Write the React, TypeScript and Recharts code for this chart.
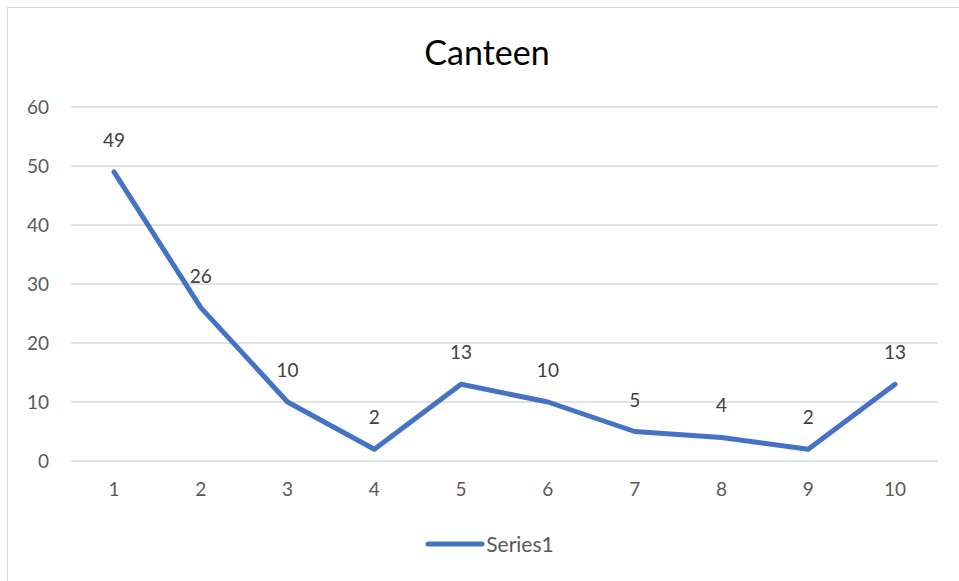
import {
  LineChart,
  Line,
  XAxis,
  YAxis,
  CartesianGrid,
  Legend,
  LabelList,
} from "recharts";

// values
const categories = ["1", "2", "3", "4", "5", "6", "7", "8", "9", "10"];
const series1 = [49, 26, 10, 2, 13, 10, 5, 4, 2, 13];
const yTicks = [0, 10, 20, 30, 40, 50, 60];

const data = categories.map((c, i) => ({ name: c, Series1: series1[i] }));

const FONT = "Lato, 'Open Sans', sans-serif";
const BLUE = "#4472C4";

function SeriesLegend() {
  return (
    <div
      style={{
        display: "flex",
        justifyContent: "center",
        alignItems: "center",
        fontFamily: FONT,
        fontSize: 21,
        color: "#595959",
      }}
    >
      <svg width={60} height={10} style={{ marginRight: 1 }}>
        <line
          x1={3}
          y1={5}
          x2={57}
          y2={5}
          stroke={BLUE}
          strokeWidth={5}
          strokeLinecap="round"
        />
      </svg>
      <span>Series1</span>
    </div>
  );
}

export default function App() {
  return (
    <div
      style={{
        position: "fixed",
        left: 0,
        top: 0,
        width: 959,
        height: 581,
        background: "#fff",
        overflow: "hidden",
      }}
    >
      {/* chart frame, only top/left edges show in the crop */}
      <div
        style={{
          position: "absolute",
          left: 7,
          top: 7,
          width: 1000,
          height: 700,
          border: "1px solid #d9d9d9",
        }}
      />

      {/* Title */}
      <div
        style={{
          position: "absolute",
          left: 0,
          top: 30,
          width: 974,
          textAlign: "center",
          fontFamily: FONT,
          fontSize: 34,
          color: "#000",
          lineHeight: "44px",
        }}
      >
        Canteen
      </div>

      <div style={{ position: "absolute", left: 0, top: 0 }}>
        <LineChart
          width={959}
          height={581}
          data={data}
          margin={{ top: 107, right: 21, bottom: 90, left: 0 }}
        >
          <CartesianGrid
            vertical={false}
            stroke="#d9d9d9"
            strokeWidth={1.5}
          />
          <XAxis
            dataKey="name"
            height={30}
            padding={{ left: 43, right: 43 }}
            axisLine={false}
            tickLine={false}
            tickSize={0}
            tickMargin={22}
            tick={{ fill: "#595959", fontSize: 19, fontFamily: FONT }}
          />
          <YAxis
            width={71}
            domain={[0, 60]}
            ticks={yTicks}
            axisLine={false}
            tickLine={false}
            tickSize={0}
            tickMargin={22}
            tick={{ fill: "#595959", fontSize: 19, fontFamily: FONT }}
          />
          <Legend
            layout="horizontal"
            verticalAlign="middle"
            wrapperStyle={{ top: 531, left: 10, width: 959 }}
            content={() => <SeriesLegend />}
          />
          <Line
            type="linear"
            dataKey="Series1"
            stroke={BLUE}
            strokeWidth={5}
            strokeLinecap="round"
            strokeLinejoin="round"
            dot={false}
            isAnimationActive={false}
          >
            <LabelList
              dataKey="Series1"
              position="top"
              offset={25}
              fill="#404040"
              fontSize={19}
              fontFamily={FONT}
            />
          </Line>
        </LineChart>
      </div>
    </div>
  );
}
